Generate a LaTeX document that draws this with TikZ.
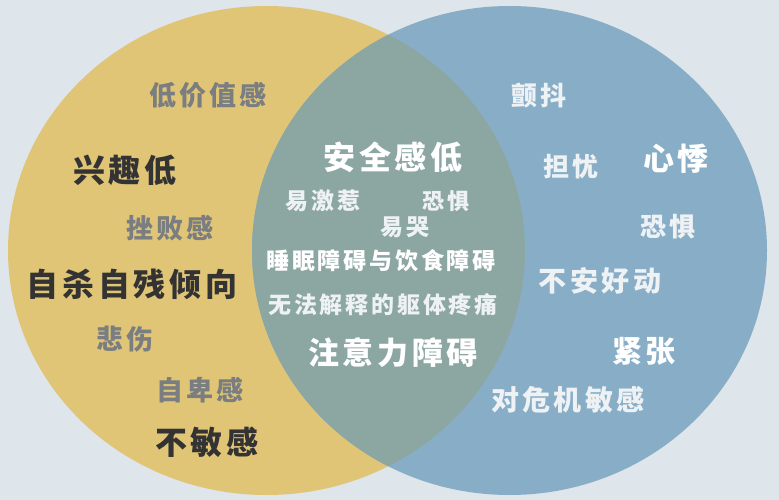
\documentclass[tikz,border=0pt]{standalone}
\usepackage{fontspec}
\newfontfamily\cjk[LetterSpace=12]{Noto Sans CJK SC}
\definecolor{bgc}{HTML}{DEE5EB}
\definecolor{yel}{HTML}{E1C577}
\definecolor{blu}{HTML}{88AEC7}
\definecolor{ovl}{HTML}{8CA6A2}
\definecolor{grayt}{HTML}{7A7E80}
\definecolor{darkt}{HTML}{333333}
\definecolor{lightt}{HTML}{EEF2F4}
\tikzset{
  lbl/.style={inner sep=0pt, xshift=-2pt, font=\cjk\bfseries\fontsize{#1}{#1}\selectfont},
  gtx/.style={lbl=#1, text=grayt},
  dtx/.style={lbl=#1, text=darkt},
  ltx/.style={lbl=#1, text=lightt},
  wtx/.style={lbl=#1, text=white},
}
\begin{document}
\begin{tikzpicture}[x=1pt,y=-1pt]
\fill[bgc] (0,0) rectangle (779,500);
\useasboundingbox (0,0) rectangle (779,500);
\fill[yel] (266.5,250.5) ellipse [x radius=258.5pt, y radius=244.5pt];
\fill[blu] (509.5,250.5) ellipse [x radius=257.5pt, y radius=244.5pt];
\begin{scope}
  \clip (266.5,250.5) ellipse [x radius=258.5pt, y radius=244.5pt];
  \fill[ovl] (509.5,250.5) ellipse [x radius=257.5pt, y radius=244.5pt];
\end{scope}
% left
\node[gtx=27] (a1) at (210,95) {低价值感};
\node[dtx=32] (a2) at (127,170) {兴趣低};
\node[gtx=27] (a3) at (172,228) {挫败感};
\node[dtx=32] (a4) at (134,284) {自杀自残倾向};
\node[gtx=27] (a5) at (127,339) {悲伤};
\node[gtx=27] (a6) at (202,390) {自卑感};
\node[dtx=32] (a7) at (209,442) {不敏感};
% overlap
\node[wtx=32] (b1) at (395,157) {安全感低};
\node[ltx=23] (b2) at (325,201) {易激惹};
\node[ltx=22] (b3) at (448,201) {恐惧};
\node[ltx=23] (b4) at (407,227) {易哭};
\node[wtx=23] (b5) at (383,261) {睡眠障碍与饮食障碍};
\node[ltx=23] (b6) at (385,305) {无法解释的躯体疼痛};
\node[wtx=31] (b7) at (395,353) {注意力障碍};
% right
\node[ltx=26] (c1) at (541,96) {颤抖};
\node[ltx=26] (c2) at (573,167) {担忧};
\node[wtx=31] (c3) at (678,159) {心悸};
\node[ltx=26] (c4) at (670,227) {恐惧};
\node[ltx=28] (c5) at (602,281) {不安好动};
\node[wtx=30] (c6) at (646,351) {紧张};
\node[ltx=28] (c7) at (570,400) {对危机敏感};
\end{tikzpicture}
\end{document}
